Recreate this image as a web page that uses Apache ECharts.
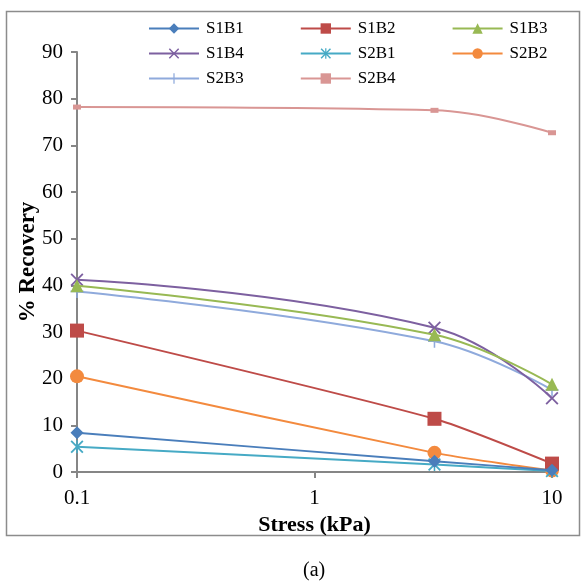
<!DOCTYPE html>
<html>
<head>
<meta charset="utf-8">
<script src="https://cdn.jsdelivr.net/npm/echarts@6/dist/echarts.min.js"></script>
<style>html,body{margin:0;padding:0;background:#fff}#c{width:581px;height:584px}</style>
</head>
<body>
<div id="c"></div>
<script>
const stress = [0.1, 3.2, 10];
const seriesNames = ['S1B1','S1B2','S1B3','S1B4','S2B1','S2B2','S2B3','S2B4'];
const S1B1 = [8.4, 2.3, 0.4];
const S1B2 = [30.3, 11.4, 1.8];
const S1B3 = [39.9, 29.4, 18.8];
const S1B4 = [41.2, 30.9, 15.8];
const S2B1 = [5.4, 1.6, 0.2];
const S2B2 = [20.5, 4.1, 0.3];
const S2B3 = [38.7, 28.0, 17.6];
const S2B4 = [78.2, 77.5, 72.7];
const yTicks = [0, 90, 10];
const xTickLabels = ['0.1', '1', '10'];

const values = [S1B1, S1B2, S1B3, S1B4, S2B1, S2B2, S2B3, S2B4];
const colors = ['#4A7EBB','#BE4B48','#98B954','#7D60A0','#46AAC5','#F38A3E','#8FAADC','#D99694'];
const X = 'path://M0,1 L1,0 L5,4 L9,0 L10,1 L6,5 L10,9 L9,10 L5,6 L1,10 L0,9 L4,5 Z';
const PLUS = 'path://M4.4,0 H5.6 V4.4 H10 V5.6 H5.6 V10 H4.4 V5.6 H0 V4.4 H4.4 Z';
const STAR = 'path://M0,1 L1,0 L5,4 L9,0 L10,1 L6,5 L10,9 L9,10 L5,6 L1,10 L0,9 L4,5 Z M4.4,0 H5.6 V10 H4.4 Z';
const symbols = ['diamond','rect','triangle',X,STAR,'circle',PLUS,'rect'];
const sizes = [13,14,13,13,13,14,13,[8,5]];
const smooths = [0.15,0.2,0.4,0.45,0.15,0.2,0.4,0.4];
const FONT = '"Liberation Serif","Times New Roman",serif';

const series = seriesNames.map((n,i)=>({
  name: n, type: 'line', smooth: smooths[i],
  data: stress.map((s,j)=>[s, values[i][j]]),
  symbol: symbols[i], symbolSize: sizes[i], symbolKeepAspect: true,
  showAllSymbol: true,
  lineStyle: {color: colors[i], width: 2},
  itemStyle: {color: colors[i]},
  z: 10 - i
}));

const legendBase = {
  orient: 'horizontal', itemWidth: 50, itemHeight: 13, itemGap: 56, padding: 0,
  left: 148,
  textStyle: {fontFamily: FONT, fontSize: 17, color: '#000', padding: [0,0,0,2]}
};

const chart = echarts.init(document.getElementById('c'), null, {renderer:'canvas'});
chart.setOption({
  backgroundColor: '#fff',
  animation: false,
  color: colors,
  graphic: [
    {type:'rect', shape:{x:6.5, y:11.5, width:573, height:524}, style:{fill:'none', stroke:'#8c8c8c', lineWidth:1.5}, z:-1},
    {type:'text', left: 303, top: 561, style:{text:'(a)', font:'20px "Liberation Serif", serif', fill:'#000'}}
  ],
  legend: [
    Object.assign({}, legendBase, {top: 20, data: seriesNames.slice(0,3)}),
    Object.assign({}, legendBase, {top: 45, data: seriesNames.slice(3,6)}),
    Object.assign({}, legendBase, {top: 70, data: seriesNames.slice(6,8)})
  ],
  grid: {left: 77, right: 29, top: 52, bottom: 112, containLabel: false},
  xAxis: {
    type: 'log', logBase: 10, min: 0.1, max: 10,
    name: 'Stress (kPa)', nameLocation: 'middle', nameGap: 41,
    nameTextStyle: {fontFamily: FONT, fontSize: 22, fontWeight: 'bold', color: '#000'},
    axisLine: {show: true, lineStyle: {color: '#868686', width: 2}},
    axisTick: {show: true, length: 6, lineStyle: {color: '#868686', width: 2}},
    minorTick: {show: false},
    splitLine: {show: false},
    axisLabel: {fontFamily: FONT, fontSize: 21, color: '#000', margin: 16,
      formatter: v => { const i = Math.round(Math.log10(v)) + 1; return xTickLabels[i] ?? ''; }}
  },
  yAxis: {
    type: 'value', min: yTicks[0], max: yTicks[1], interval: yTicks[2],
    name: '% Recovery', nameLocation: 'middle', nameGap: 37, nameRotate: 90,
    nameMoveOverlap: false,
    nameTextStyle: {fontFamily: FONT, fontSize: 23, fontWeight: 'bold', color: '#000'},
    axisLine: {show: true, lineStyle: {color: '#868686', width: 2}},
    axisTick: {show: true, length: 6, lineStyle: {color: '#868686', width: 2}},
    splitLine: {show: false},
    axisLabel: {fontFamily: FONT, fontSize: 21, color: '#000', margin: 14}
  },
  series: series
});
</script>
</body>
</html>
